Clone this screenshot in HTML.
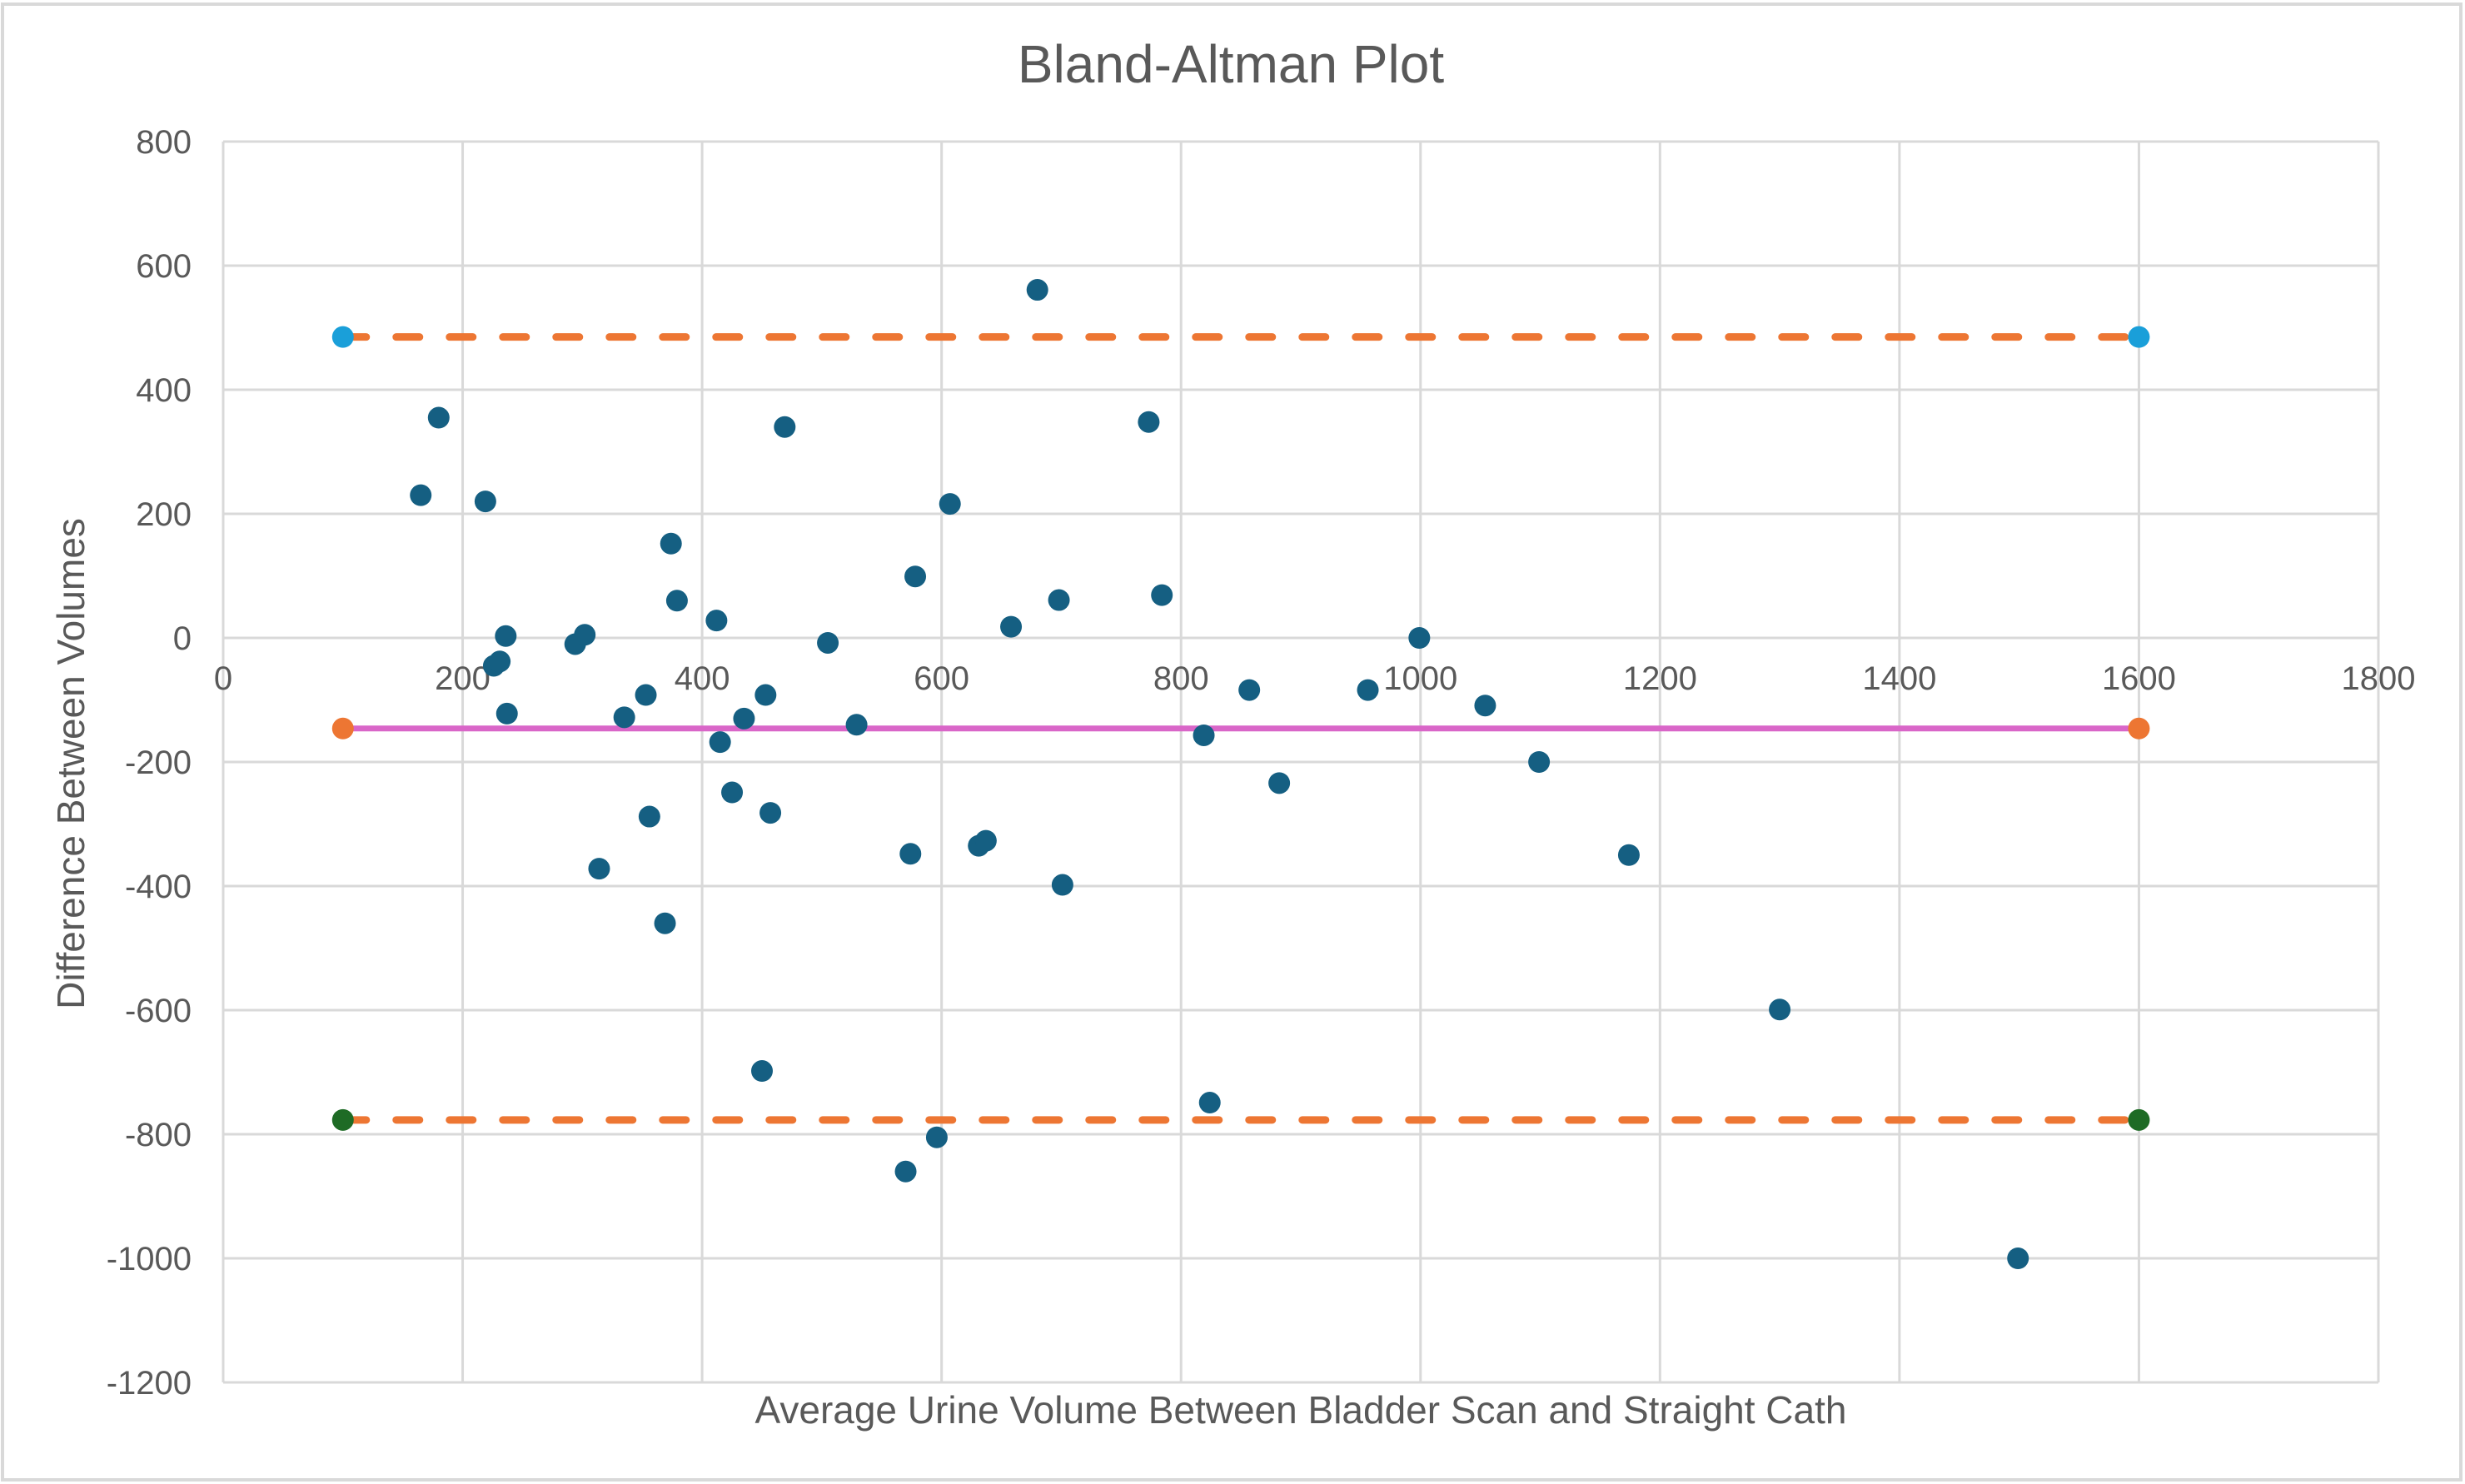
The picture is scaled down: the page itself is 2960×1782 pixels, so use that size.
<!DOCTYPE html>
<html><head><meta charset="utf-8"><style>
html,body{margin:0;padding:0;background:#fff}
svg{display:block}
text{font-family:"Liberation Sans",Arial,sans-serif;fill:#595959}
</style></head><body>
<svg id="chart" width="2960" height="1782" viewBox="0 0 2960 1782">
<rect x="3" y="5" width="2952" height="1772" fill="#fff" stroke="#d9d9d9" stroke-width="4"/>
<text x="1478" y="99" font-size="64" text-anchor="middle">Bland-Altman Plot</text>
<g id="grid"></g>
<g id="ticks"></g>
<g id="lines"></g>
<g id="pts"></g>
<text x="1562" y="1709" font-size="46" text-anchor="middle">Average Urine Volume Between Bladder Scan and Straight Cath</text>
<text transform="translate(101,917) rotate(-90)" font-size="46" text-anchor="middle">Difference Between Volumes</text>
</svg>
<script>
const xTicks=[0,200,400,600,800,1000,1200,1400,1600,1800];
const yTicks=[800,600,400,200,0,-200,-400,-600,-800,-1000,-1200];
const avgVolume=[165,180,219,226,231,236,237,294,302,314,335,353,356,369,374,379,412,415,425,435,450,453,457,469,505,529,570,574,578,596,607,631,637,658,680,698,701,773,784,819,824,857,882,956,999,1054,1099,1174,1300,1499];
const diffVolume=[230,355,220,-45,-38,3,-122,-10,5,-372,-128,-92,-288,-460,152,60,28,-168,-249,-130,-698,-92,-282,340,-8,-140,-860,-348,99,-805,216,-335,-327,18,561,61,-398,348,69,-157,-749,-84,-234,-84,0,-109,-200,-350,-599,-1000];
const limitX=[100,1600];
const upperLoA=[485,485];
const meanDiff=[-146,-146];
const lowerLoA=[-777,-777];
const X0=268,X1=2856,Y0=170,Y1=1660;
const sx=v=>X0+(v-0)/1800*(X1-X0);
const sy=v=>Y0+(800-v)/2000*(Y1-Y0);
const NS="http://www.w3.org/2000/svg";
function mk(t,a,p){const e=document.createElementNS(NS,t);for(const k in a)e.setAttribute(k,a[k]);p.appendChild(e);return e;}
const grid=document.getElementById('grid'),ticks=document.getElementById('ticks'),lines=document.getElementById('lines'),pts=document.getElementById('pts');
xTicks.forEach(v=>{const l=mk('line',{x1:sx(v),x2:sx(v),y1:Y0,y2:Y1,stroke:'#d9d9d9','stroke-width':3},grid);


const t=mk('text',{x:sx(v),y:sy(0)+62,'font-size':40,'text-anchor':'middle'},ticks);t.textContent=v;

});
yTicks.forEach(v=>{const l=mk('line',{x1:X0,x2:X1,y1:sy(v),y2:sy(v),stroke:'#d9d9d9','stroke-width':3},grid);


const t=mk('text',{x:230,y:sy(v)+14,'font-size':40,'text-anchor':'end'},ticks);t.textContent=v;

});
function hline(arr,color,dash,w,mcol,name){
 const l=mk('line',{x1:sx(limitX[0]),x2:sx(limitX[1]),y1:sy(arr[0]),y2:sy(arr[1]),stroke:color,'stroke-width':w,'stroke-dasharray':dash,'stroke-linecap':'round'},lines);
 
 
 for(let i=0;i<2;i++){const c=mk('circle',{cx:sx(limitX[i]),cy:sy(arr[i]),r:13,fill:mcol},lines);
 
 }
}
hline(upperLoA,'#ed7633','28 36',9,'#1a9fd9','upper-limit-line');
hline(meanDiff,'#d966c8','none',7,'#ed7633','mean-line');
hline(lowerLoA,'#ed7633','28 36',9,'#1e6b25','lower-limit-line');
avgVolume.forEach((v,i)=>{const c=mk('circle',{cx:sx(v),cy:sy(diffVolume[i]),r:13,fill:'#155f82'},pts);

});
</script>
</body></html>
